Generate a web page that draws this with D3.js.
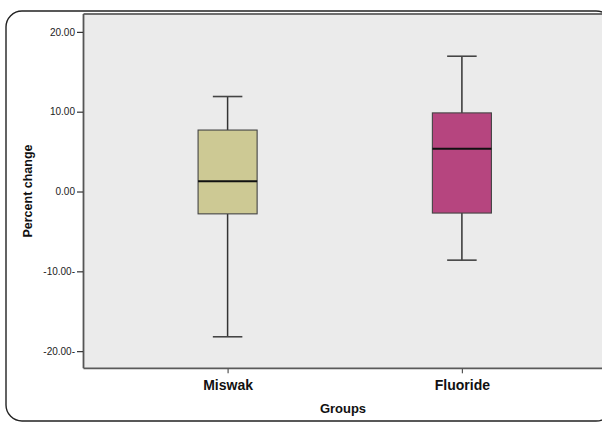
<!DOCTYPE html>
<html>
<head>
<meta charset="utf-8">
<script src="https://cdn.jsdelivr.net/npm/d3@7"></script>
<style>
  html, body { margin: 0; padding: 0; background: #ffffff; }
  svg { display: block; }
</style>
</head>
<body>
<div id="chart"></div>
<script>
// Percent change by group: box-and-whisker summaries
const groups = ["Miswak", "Fluoride"];
const whiskerLow = [-18.2, -8.6];
const q1 = [-2.8, -2.7];
const median = [1.3, 5.35];
const q3 = [7.7, 9.85];
const whiskerHigh = [11.9, 16.95];
const boxColors = ["#cdc994", "#b6457f"];

const yTickValues = [-20, -10, 0, 10, 20];
const yTickLabels = ["-20.00-", "-10.00-", "0.00", "10.00", "20.00"];

const W = 602, H = 423;
const plot = { left: 83.5, right: 606, top: 14, bottom: 368.3 };

const svg = d3.select("#chart").append("svg")
  .attr("width", W).attr("height", H);

// outer rounded frame
svg.append("rect")
  .attr("x", 6).attr("y", 11)
  .attr("width", 606).attr("height", 410)
  .attr("rx", 16).attr("ry", 16)
  .attr("fill", "#ffffff")
  .attr("stroke", "#222").attr("stroke-width", 1.4);

const x = d3.scalePoint()
  .domain(groups)
  .range([plot.left, plot.right])
  .padding(0.615);

const y = d3.scaleLinear()
  .domain([-22.15, 22.24])
  .range([plot.bottom, plot.top]);

// plot background
svg.append("rect")
  .attr("x", plot.left).attr("y", plot.top)
  .attr("width", plot.right - plot.left).attr("height", plot.bottom - plot.top)
  .attr("fill", "#ebebeb");

// plot frame lines
svg.append("line")
  .attr("x1", plot.left).attr("x2", plot.right)
  .attr("y1", plot.top).attr("y2", plot.top)
  .attr("stroke", "#6e6e6e").attr("stroke-width", 2);
svg.append("line")
  .attr("x1", plot.left).attr("x2", plot.right)
  .attr("y1", plot.bottom).attr("y2", plot.bottom)
  .attr("stroke", "#5a5a5a").attr("stroke-width", 1.8);
svg.append("line")
  .attr("x1", plot.left).attr("x2", plot.left)
  .attr("y1", plot.top).attr("y2", plot.bottom)
  .attr("stroke", "#555").attr("stroke-width", 1.8);

// y axis
const yAxis = d3.axisLeft(y)
  .tickValues(yTickValues)
  .tickSize(6)
  .tickPadding(2)
  .tickFormat((d, i) => yTickLabels[i]);
const gy = svg.append("g")
  .attr("transform", `translate(${plot.left - 0.5},0)`)
  .call(yAxis);
gy.select(".domain").remove();
gy.selectAll(".tick line").attr("stroke", "#333").attr("stroke-width", 1.2);
gy.selectAll(".tick text")
  .attr("fill", "#222")
  .style("font-family", "Liberation Sans, Arial, sans-serif")
  .style("font-size", "10px");

// x axis
const xAxis = d3.axisBottom(x).tickSize(5).tickPadding(7);
const gx = svg.append("g")
  .attr("transform", `translate(0,${plot.bottom})`)
  .call(xAxis);
gx.select(".domain").remove();
gx.selectAll(".tick line").attr("stroke", "#555").attr("stroke-width", 1.2);
gx.selectAll(".tick text")
  .attr("fill", "#111")
  .style("font-family", "Liberation Sans, Arial, sans-serif")
  .style("font-size", "14px")
  .style("font-weight", "bold");

// axis titles
svg.append("text")
  .attr("x", 343).attr("y", 412.5)
  .attr("text-anchor", "middle")
  .attr("fill", "#111")
  .style("font-family", "Liberation Sans, Arial, sans-serif")
  .style("font-size", "13px").style("font-weight", "bold")
  .text("Groups");

svg.append("text")
  .attr("transform", "translate(32,191) rotate(-90)")
  .attr("text-anchor", "middle")
  .attr("fill", "#111")
  .style("font-family", "Liberation Sans, Arial, sans-serif")
  .style("font-size", "12.5px").style("font-weight", "bold")
  .text("Percent change");

// boxes
const boxW = x.step() * 0.252;
const capW = boxW / 2;
const g = svg.append("g");
groups.forEach((grp, i) => {
  const cx = x(grp);
  // whiskers
  g.append("line")
    .attr("x1", cx).attr("x2", cx)
    .attr("y1", y(whiskerHigh[i])).attr("y2", y(q3[i]))
    .attr("stroke", "#333").attr("stroke-width", 1.5);
  g.append("line")
    .attr("x1", cx).attr("x2", cx)
    .attr("y1", y(q1[i])).attr("y2", y(whiskerLow[i]))
    .attr("stroke", "#333").attr("stroke-width", 1.5);
  // caps
  [whiskerHigh[i], whiskerLow[i]].forEach(v => {
    g.append("line")
      .attr("x1", cx - capW / 2).attr("x2", cx + capW / 2)
      .attr("y1", y(v)).attr("y2", y(v))
      .attr("stroke", "#444").attr("stroke-width", 1.6);
  });
  // box
  g.append("rect")
    .attr("x", cx - boxW / 2).attr("y", y(q3[i]))
    .attr("width", boxW).attr("height", y(q1[i]) - y(q3[i]))
    .attr("fill", boxColors[i])
    .attr("stroke", "#444").attr("stroke-width", 1.1);
  // median
  g.append("line")
    .attr("x1", cx - boxW / 2).attr("x2", cx + boxW / 2)
    .attr("y1", y(median[i])).attr("y2", y(median[i]))
    .attr("stroke", "#111").attr("stroke-width", 2);
});
</script>
</body>
</html>
